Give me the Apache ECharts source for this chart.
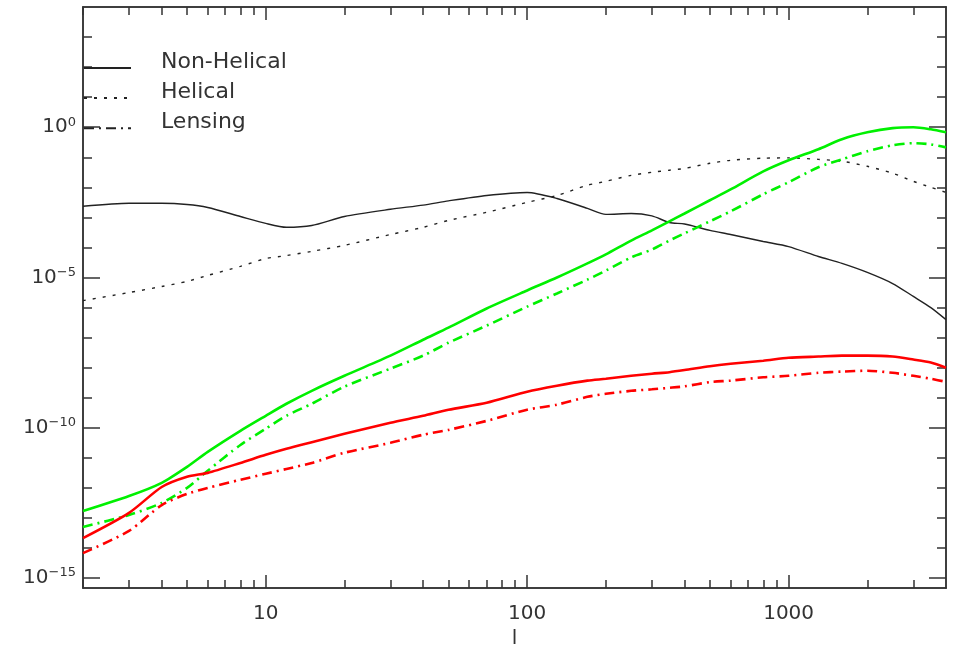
<!DOCTYPE html>
<html>
<head>
<meta charset="utf-8">
<script src="https://cdn.jsdelivr.net/npm/echarts@6/dist/echarts.min.js"></script>
<style>html,body{margin:0;padding:0;background:#fff}#c{width:954px;height:648px}</style>
</head>
<body>
<div id="c"></div>
<script>
// multipole l (shared sample points)
const ell = [2,3,4,5,6,8,10,12,15,20,30,40,50,70,100,130,170,200,250,300,350,400,500,600,800,1000,1300,1600,2000,2500,3000,3500,4000];
// curves: log10 of the plotted quantity at each l
const blackSolidLog = [-2.63,-2.53,-2.53,-2.57,-2.67,-2.97,-3.2,-3.33,-3.27,-2.97,-2.73,-2.59,-2.45,-2.27,-2.17,-2.37,-2.7,-2.9,-2.87,-2.95,-3.17,-3.22,-3.43,-3.57,-3.8,-3.97,-4.3,-4.53,-4.83,-5.2,-5.63,-6.0,-6.4];
const blackDottedLog = [-5.77,-5.5,-5.3,-5.13,-4.93,-4.63,-4.37,-4.27,-4.13,-3.93,-3.57,-3.33,-3.1,-2.83,-2.5,-2.27,-1.93,-1.8,-1.6,-1.5,-1.43,-1.37,-1.2,-1.1,-1.03,-1.02,-1.07,-1.13,-1.3,-1.53,-1.8,-2.0,-2.17];
const greenSolidLog = [-12.77,-12.27,-11.83,-11.3,-10.8,-10.1,-9.6,-9.2,-8.77,-8.27,-7.6,-7.07,-6.67,-6.03,-5.43,-5.0,-4.53,-4.23,-3.77,-3.43,-3.13,-2.87,-2.43,-2.07,-1.47,-1.1,-0.73,-0.4,-0.17,-0.03,0.0,-0.07,-0.17];
const greenDashDotLog = [-13.3,-12.9,-12.5,-12.0,-11.43,-10.57,-10.03,-9.6,-9.2,-8.63,-8.03,-7.6,-7.17,-6.6,-5.97,-5.53,-5.07,-4.77,-4.33,-4.07,-3.77,-3.53,-3.13,-2.8,-2.23,-1.83,-1.33,-1.07,-0.8,-0.6,-0.53,-0.57,-0.67];
const redSolidLog = [-13.67,-12.83,-11.97,-11.63,-11.5,-11.17,-10.9,-10.7,-10.48,-10.2,-9.83,-9.6,-9.4,-9.17,-8.8,-8.6,-8.43,-8.37,-8.27,-8.2,-8.15,-8.08,-7.95,-7.87,-7.77,-7.67,-7.63,-7.6,-7.6,-7.63,-7.73,-7.83,-8.0];
const redDashDotLog = [-14.17,-13.43,-12.57,-12.2,-12.0,-11.73,-11.53,-11.37,-11.17,-10.83,-10.5,-10.23,-10.07,-9.77,-9.4,-9.23,-8.97,-8.87,-8.77,-8.72,-8.67,-8.62,-8.48,-8.43,-8.32,-8.27,-8.17,-8.13,-8.1,-8.17,-8.27,-8.37,-8.47];
// axes
const xRange = [2, 4000];
const yRangeLog = [-15.33, 4];
const xMajorTicks = [10, 100, 1000];
const xMinorTicks = [2,3,4,5,6,7,8,9,20,30,40,50,60,70,80,90,200,300,400,500,600,700,800,900,2000,3000];
const yMajorTicks = [-15, -10, -5, 0];
const yMinorTicks = [-15,-14,-13,-12,-11,-10,-9,-8,-7,-6,-5,-4,-3,-2,-1,0,1,2,3];
const legendNames = ['Non-Helical', 'Helical', 'Lensing'];

const FONT = 'DejaVu Sans';
const AX = '#333';
const lg = Math.log10;
const xMin = lg(xRange[0]), xMax = lg(xRange[1]);

function xAx(pos, ticks, len, labels) {
  return {
    type: 'value', position: pos, min: xMin, max: xMax,
    axisLine: { show: true, onZero: false, lineStyle: { color: AX, width: 1.5 } },
    axisTick: { show: true, inside: true, length: len, customValues: ticks.map(lg), lineStyle: { color: AX, width: 1.5 } },
    axisLabel: labels ? { show: true, customValues: ticks.map(lg), margin: 16, fontSize: 20, fontFamily: FONT, color: AX,
      formatter: v => String(Math.round(Math.pow(10, v))) } : { show: false },
    splitLine: { show: false },
    name: labels ? 'l' : '', nameLocation: 'middle', nameGap: 40,
    nameTextStyle: { fontSize: 20, fontFamily: FONT, color: AX }
  };
}
function yAx(pos, ticks, len, labels) {
  return {
    type: 'value', position: pos, min: yRangeLog[0], max: yRangeLog[1],
    axisLine: { show: true, onZero: false, lineStyle: { color: AX, width: 1.5 } },
    axisTick: { show: true, inside: true, length: len, customValues: ticks, lineStyle: { color: AX, width: 1.5 } },
    axisLabel: labels ? { show: true, customValues: ticks, margin: 7,
      formatter: v => { const e = Math.round(v); return '{b|10}{s|' + (e < 0 ? '\u2212' + (-e) : String(e)) + '}'; },
      rich: { b: { fontSize: 20, fontFamily: FONT, color: AX }, s: { fontSize: 13, fontFamily: FONT, color: AX, padding: [0, 0, 10, 0] } }
    } : { show: false },
    splitLine: { show: false }
  };
}
function curve(name, logs, color, width, type) {
  return {
    type: 'line', name: name, xAxisIndex: 0, yAxisIndex: 0,
    data: ell.map((l, i) => [lg(l), logs[i]]),
    showSymbol: false, symbol: 'none', smooth: 0.25,
    lineStyle: { color: color, width: width, type: type }, itemStyle: { color: color },
    silent: true, z: 3
  };
}
function legendSeries(name, type) {
  return { type: 'line', name: name, data: [], symbol: 'none', xAxisIndex: 0, yAxisIndex: 0,
    lineStyle: { color: '#222', width: 1.5, type: type }, itemStyle: { color: '#222' } };
}
const dotted = [3, 7];
const dashDot = [10, 5, 2, 5];
const option = {
  animation: false,
  backgroundColor: '#fff',
  grid: { left: 83, right: 8, top: 7, bottom: 60, containLabel: false, outerBoundsMode: 'none' },
  xAxis: [xAx('bottom', xMajorTicks, 13, true), xAx('bottom', xMinorTicks, 8, false),
          xAx('top', xMajorTicks, 13, false), xAx('top', xMinorTicks, 8, false)],
  yAxis: [yAx('left', yMajorTicks, 17, true), yAx('left', yMinorTicks, 9, false),
          yAx('right', yMajorTicks, 17, false), yAx('right', yMinorTicks, 9, false)],
  legend: {
    data: legendNames, orient: 'vertical', left: 83, top: 51, padding: 0,
    itemWidth: 47, itemHeight: 14, itemGap: 7.5, selectedMode: false,
    itemStyle: { opacity: 0 },
    formatter: name => '{t|' + name + '}',
    textStyle: { fontSize: 22, fontFamily: FONT, color: AX,
      rich: { t: { fontSize: 22, fontFamily: FONT, color: AX, padding: [0, 0, 12, 25] } } }
  },
  series: [
    legendSeries(legendNames[0], 'solid'),
    legendSeries(legendNames[1], dotted),
    legendSeries(legendNames[2], dashDot),
    curve('NH black', blackSolidLog, '#222', 1.4, 'solid'),
    curve('H black', blackDottedLog, '#222', 1.4, dotted),
    curve('NH green', greenSolidLog, '#00f000', 2.6, 'solid'),
    curve('L green', greenDashDotLog, '#00f000', 2.6, dashDot),
    curve('NH red', redSolidLog, '#ff0000', 2.6, 'solid'),
    curve('L red', redDashDotLog, '#ff0000', 2.6, dashDot)
  ]
};
const chart = echarts.init(document.getElementById('c'), null, { renderer: 'canvas' });
chart.setOption(option);
</script>
</body>
</html>
